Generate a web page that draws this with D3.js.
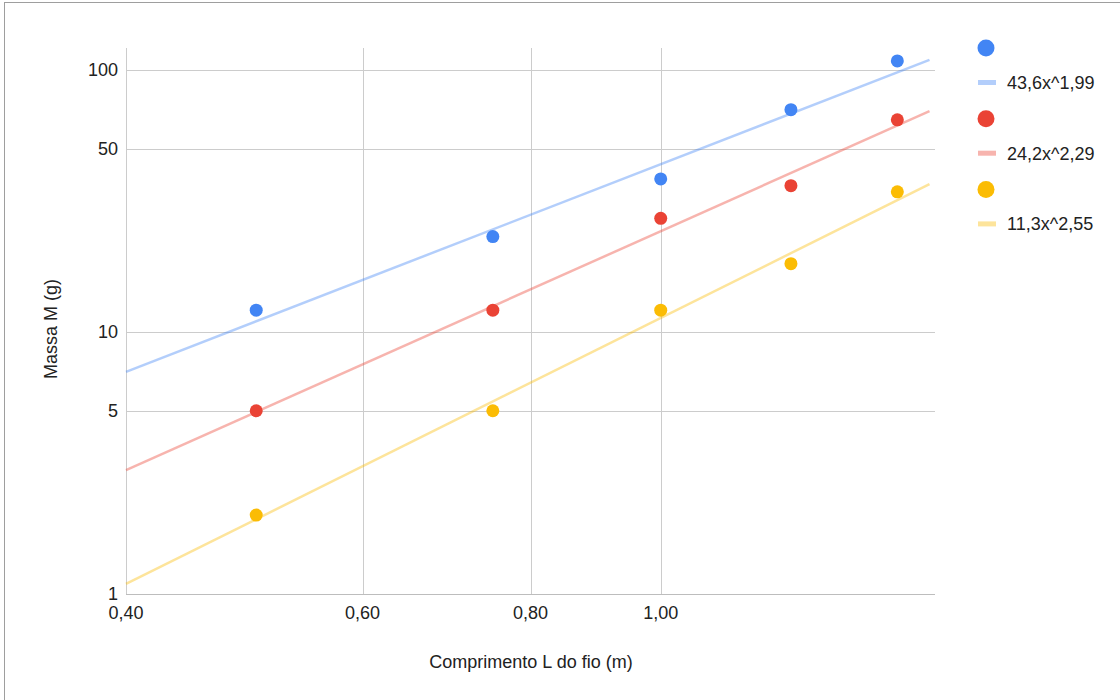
<!DOCTYPE html>
<html>
<head>
<meta charset="utf-8">
<script src="https://cdn.jsdelivr.net/npm/d3@7"></script>
<style>
  body { margin: 0; background: #fff; }
  svg { display: block; font-family: "Liberation Sans", Arial, sans-serif; }
</style>
</head>
<body>
<svg id="chart" width="1120" height="700"></svg>
<script>
// comprimento L (m)
const lengths = [0.5, 0.75, 1.0, 1.25, 1.5];
// massa M (g) for the three series
const blueMass = [12.1, 23.1, 38.3, 70.4, 108];
const redMass = [5.0, 12.1, 27.1, 36.1, 64.4];
const yellowMass = [2.0, 5.0, 12.1, 18.2, 34.2];

// power trendlines a*x^b
const trendA = [43.6, 24.2, 11.3];
const trendB = [1.99, 2.29, 2.55];
const trendLabels = ['43,6x^1,99', '24,2x^2,29', '11,3x^2,55'];
const trendRange = [0.4, 1.585];

const colors = ['#4285f4', '#ea4335', '#fbbc04'];
const xTicks = [0.4, 0.6, 0.8, 1.0];
const yTicks = [1, 5, 10, 50, 100];

const svg = d3.select('#chart');

// outer border (only top and left visible)
svg.append('rect')
  .attr('x', 4.5).attr('y', 2.5)
  .attr('width', 1200).attr('height', 800)
  .attr('fill', 'none').attr('stroke', '#9e9e9e');

const m = { left: 126, right: 935, top: 48, bottom: 594 };

const x = d3.scaleLog().domain([0.4, 1.6]).range([m.left, m.right]);
const y = d3.scaleLog().domain([1, 121]).range([m.bottom, m.top]);

const fmt = d => d.toFixed(2).replace('.', ',');
const fs = 18;

// gridlines
svg.append('g').selectAll('line')
  .data(yTicks.filter(d => d !== 1))
  .join('line')
  .attr('x1', m.left).attr('x2', m.right)
  .attr('y1', d => Math.round(y(d)) + 0.5).attr('y2', d => Math.round(y(d)) + 0.5)
  .attr('stroke', '#cccccc');

svg.append('g').selectAll('line')
  .data(xTicks.filter(d => d !== 0.4))
  .join('line')
  .attr('x1', d => Math.round(x(d)) + 0.5).attr('x2', d => Math.round(x(d)) + 0.5)
  .attr('y1', m.top).attr('y2', m.bottom)
  .attr('stroke', '#cccccc');

// axis lines
svg.append('line')
  .attr('x1', m.left + 0.5).attr('x2', m.left + 0.5)
  .attr('y1', m.top).attr('y2', m.bottom)
  .attr('stroke', '#cccccc');
svg.append('line')
  .attr('x1', m.left).attr('x2', m.right)
  .attr('y1', m.bottom + 0.5).attr('y2', m.bottom + 0.5)
  .attr('stroke', '#bdbdbd');

// y tick labels
svg.append('g').selectAll('text')
  .data(yTicks)
  .join('text')
  .attr('x', m.left - 8)
  .attr('y', d => y(d) + 6)
  .attr('text-anchor', 'end')
  .attr('font-size', fs)
  .attr('fill', '#222')
  .text(d => d);

// x tick labels
svg.append('g').selectAll('text')
  .data(xTicks)
  .join('text')
  .attr('x', d => x(d))
  .attr('y', m.bottom + 25)
  .attr('text-anchor', 'middle')
  .attr('font-size', fs)
  .attr('fill', '#222')
  .text(fmt);

// axis titles
svg.append('text')
  .attr('x', 531).attr('y', 668)
  .attr('text-anchor', 'middle')
  .attr('font-size', fs).attr('fill', '#222')
  .text('Comprimento L do fio (m)');

svg.append('text')
  .attr('transform', 'translate(57,329) rotate(-90)')
  .attr('text-anchor', 'middle')
  .attr('font-size', fs).attr('fill', '#222')
  .text('Massa M (g)');

// trendlines
const line = d3.line().x(d => x(d[0])).y(d => y(d[1]));
trendA.forEach((a, i) => {
  const pts = trendRange.map(v => [v, a * Math.pow(v, trendB[i])]);
  svg.append('path')
    .attr('d', line(pts))
    .attr('fill', 'none')
    .attr('stroke', colors[i])
    .attr('stroke-opacity', 0.4)
    .attr('stroke-width', 2.5);
});

// points
[blueMass, redMass, yellowMass].forEach((series, i) => {
  svg.append('g').selectAll('circle')
    .data(series)
    .join('circle')
    .attr('cx', (d, j) => x(lengths[j]))
    .attr('cy', d => y(d))
    .attr('r', 6.5)
    .attr('fill', colors[i]);
});

// legend
const legend = svg.append('g');
colors.forEach((c, i) => {
  const y0 = 48 + i * 70.7;
  legend.append('circle')
    .attr('cx', 986).attr('cy', y0).attr('r', 8.5)
    .attr('fill', c);
  legend.append('rect')
    .attr('x', 978).attr('y', y0 + 32).attr('width', 18).attr('height', 5)
    .attr('fill', c).attr('fill-opacity', 0.4);
  legend.append('text')
    .attr('x', 1007).attr('y', y0 + 41)
    .attr('font-size', fs).attr('fill', '#222')
    .text(trendLabels[i]);
});
</script>
</body>
</html>
